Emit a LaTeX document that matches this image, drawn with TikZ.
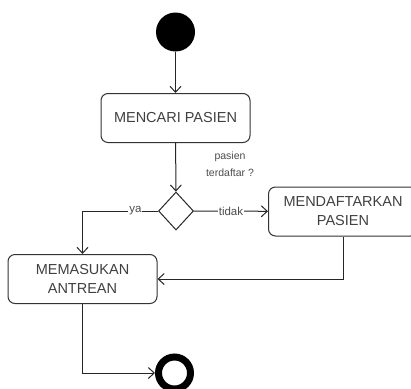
\documentclass[tikz,border=0pt]{standalone}
\usepackage{fontspec}
\setmainfont{Liberation Sans}
\usetikzlibrary{arrows.meta, positioning, shapes.geometric}

\begin{document}
\begin{tikzpicture}[
    x=1pt, y=-1pt,
    action/.style={rectangle, rounded corners=7pt, draw=black!80, line width=1pt,
        minimum width=149pt, minimum height=49pt, align=center, text=black!75,
        font=\fontsize{14.5}{19}\selectfont},
    startdot/.style={circle, fill=black, minimum size=39pt, inner sep=0pt},
    enddot/.style={circle, draw=black, line width=7pt, minimum size=32pt, inner sep=0pt},
    decision/.style={diamond, draw=black!85, line width=1pt, minimum width=35pt,
        minimum height=38pt, inner sep=0pt},
    flow/.style={-{Straight Barb[length=6pt, width=11pt]}, line width=1pt, draw=black!85},
    guard/.style={fill=white, inner sep=1pt, text=black!70, font=\fontsize{11.5}{13}\selectfont},
]

% Bounding box of the picture (the right box runs off the edge)
\path[use as bounding box, clip] (0,0) rectangle (411,388);

% Define activity nodes
\node[startdot] (start) at (175.5,32) {};
\node[action] (cari) at (175.5,118) {MENCARI PASIEN};
\node[decision] (cek) at (176,211) {};
\node[action] (daftar) at (343,211.5) {MENDAFTARKAN\\PASIEN};
\node[action] (antre) at (82.5,279) {MEMASUKAN\\ANTREAN};
\node[enddot] (stop) at (174.5,373) {};

% Question at the decision
\node[align=center, text=black!70, font=\fontsize{10.5}{17}\selectfont] (tanya) at (230,164.5)
    {pasien\\terdaftar ?};

% Define transitions (edges)
\draw[flow] (start) -- (cari);
\draw[flow] (cari) -- (cek);
\draw[flow] (cek) -- node[guard, midway] {tidak} (daftar);
\draw[flow] (cek) -| node[guard, pos=0.15] {ya} (antre);
\draw[flow] (daftar) |- (antre);
\draw[flow] (antre) |- (stop);

\end{tikzpicture}
\end{document}
